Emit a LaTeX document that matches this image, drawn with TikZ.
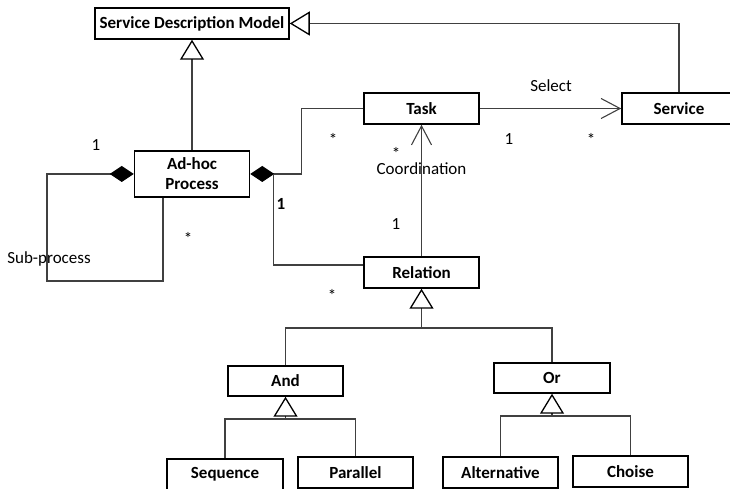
\documentclass[tikz,border=0pt]{standalone}
\usepackage{fontspec}
\setmainfont{Carlito}
\usetikzlibrary{arrows.meta}

\begin{document}
\begin{tikzpicture}[
      x=10pt, y=10pt,
      every node/.style={font=\fontsize{17}{20}\selectfont},
      cls/.style={rectangle, draw=black, line width=1.5pt, fill=white, minimum width=115pt, minimum height=31pt, inner sep=2pt, align=center, font=\fontsize{17}{20}\selectfont\bfseries},
      wide/.style={cls, minimum width=194pt},
      line/.style={draw=black!75, line width=1.1pt},
      gen/.style={line, -{Triangle[open, length=20pt, width=24pt, color=black, line width=1.3pt]}},
      comp/.style={line, {Diamond[length=24pt, width=16pt, color=black]}-},
      assoc/.style={line, -{Straight Barb[length=19pt, width=20pt, line width=1.1pt]}},
      mult/.style={inner sep=0pt}
  ]
    \useasboundingbox (0,0) rectangle (73,48.9);

    \node[wide] (sdm) at (19.2,46.55) {Service Description Model};
    \node[cls, minimum height=46pt] (adhoc) at (19.2,31.5) {Ad-hoc\\Process};
    \node[cls] (task) at (42.15,38.05) {Task};
    \node[cls, minimum width=114pt] (service) at (67.9,38.05) {Service};
    \node[cls] (relation) at (42.15,21.65) {Relation};
    \node[cls, minimum height=30pt] (and) at (28.55,10.8) {And};
    \node[cls, minimum width=116pt, minimum height=30pt] (or) at (55.2,11.1) {Or};
    \node[cls, minimum width=116pt] (sequence) at (22.5,1.45) {Sequence};
    \node[cls] (parallel) at (35.55,1.65) {Parallel};
    \node[cls] (alternative) at (50.05,1.65) {Alternative};
    \node[cls] (choise) at (63.05,1.75) {Choise};

    \coordinate (subloop) at (4.7,20.8);
    \coordinate (relfork) at (42.15,16.1);
    \coordinate (andfork) at (28.55,7.0);
    \coordinate (orfork) at (55.2,7.3);

    \draw[gen] (adhoc) -- (sdm);
    \draw[gen] (service.north) |- (sdm.east);
    \draw[comp] (adhoc.west) -| (subloop) -| ([xshift=-29pt]adhoc.south);
    \draw[comp] (adhoc.east) -- ++(5.1,0) |- (task.west);
    \draw[line] ([xshift=23pt]adhoc.east) |- ([yshift=7.5pt]relation.west);
    \draw[assoc] (task) -- (service);
    \draw[assoc] (relation) -- (task);
    \draw[line] (and.north) |- (relfork);
    \draw[line] (or.north) |- (relfork);
    \draw[gen] (relfork) -- (relation.south);
    \draw[line] (sequence.north) |- (andfork);
    \draw[line] (parallel.north) |- (andfork);
    \draw[gen] (andfork) -- (and.south);
    \draw[line] (alternative.north) |- (orfork);
    \draw[line] (choise.north) |- (orfork);
    \draw[gen] (orfork) -- (or.south);

    \node[mult] (adhocone) at (9.6,34.4) {1};
    \node (subname) at (4.9,23.0) {Sub-process};
    \node[mult] (submany) at (18.8,25.05) {*};
    \node[mult] (taskmany) at (33.3,34.95) {*};
    \node[mult] (coordmany) at (39.6,33.6) {*};
    \node[mult] (coordname) at (42.15,32.0) {Coordination};
    \node[mult, font=\fontsize{17}{20}\selectfont\bfseries] (relone) at (28.1,28.5) {1};
    \node[mult] (coordone) at (39.6,26.5) {1};
    \node[mult] (relmany) at (33.2,19.35) {*};
    \node (selectname) at (55.1,40.3) {Select};
    \node[mult] (selectone) at (50.9,35.0) {1};
    \node[mult] (selectmany) at (59.1,34.95) {*};
  \end{tikzpicture}
\end{document}
